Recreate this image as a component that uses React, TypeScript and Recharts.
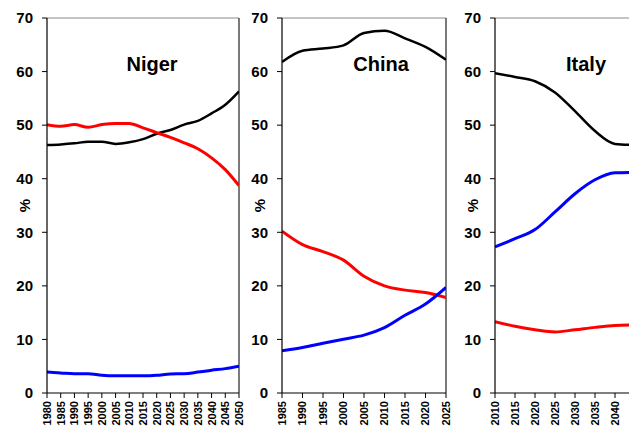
import React from "react";
import { LineChart, Line, XAxis, YAxis, ReferenceLine } from "recharts";

// Age structure of the population (% of total) by broad age group.

const nigerYears = [1980, 1985, 1990, 1995, 2000, 2005, 2010, 2015, 2020, 2025, 2030, 2035, 2040, 2045, 2050];
const nigerAge15to64 = [46.3, 46.4, 46.6, 46.9, 46.9, 46.5, 46.8, 47.4, 48.4, 49.1, 50.1, 50.8, 52.2, 53.8, 56.3];
const nigerAge0to14 = [50.1, 49.8, 50.1, 49.6, 50.1, 50.3, 50.3, 49.5, 48.6, 47.7, 46.7, 45.6, 43.9, 41.7, 38.7];
const nigerAge65plus = [3.9, 3.75, 3.6, 3.6, 3.3, 3.2, 3.2, 3.2, 3.3, 3.55, 3.6, 3.9, 4.25, 4.55, 5.0];

const chinaYears = [1985, 1990, 1995, 2000, 2005, 2010, 2015, 2020, 2025];
const chinaAge15to64 = [61.8, 63.9, 64.3, 64.9, 67.2, 67.6, 66.2, 64.6, 62.2];
const chinaAge0to14 = [30.2, 27.7, 26.4, 24.8, 21.8, 20.0, 19.2, 18.75, 17.8];
const chinaAge65plus = [7.9, 8.5, 9.3, 10.05, 10.8, 12.2, 14.5, 16.6, 19.7];

const italyYears = [2010, 2015, 2020, 2025, 2030, 2035, 2040, 2045];
const italyAge15to64 = [59.7, 59.0, 58.2, 56.1, 52.6, 48.9, 46.5, 46.3];
const italyAge0to14 = [13.3, 12.45, 11.8, 11.4, 11.8, 12.25, 12.6, 12.7];
const italyAge65plus = [27.3, 28.8, 30.5, 33.8, 37.2, 39.8, 41.1, 41.2];

const percentTicks = [0, 10, 20, 30, 40, 50, 60, 70];

const FONT = "Arial, 'Liberation Sans', Helvetica, sans-serif";

function buildRows(years: number[], working: number[], young: number[], old: number[]) {
  return years.map((year, i) => ({ year, working: working[i], young: young[i], old: old[i] }));
}

function yearTicks(from: number, to: number) {
  const out: number[] = [];
  for (let y = from; y <= to; y += 5) out.push(y);
  return out;
}

function YearTick(props: any) {
  const { x, y, payload } = props;
  return (
    <text
      x={x}
      y={y}
      transform={`rotate(-90 ${x} ${y})`}
      textAnchor="end"
      dy="0.36em"
      fontSize={11}
      fontWeight="bold"
      fontFamily={FONT}
      fill="#000"
    >
      {payload.value}
    </text>
  );
}

function PercentLabel(props: any) {
  const { viewBox } = props;
  const x = viewBox.x + viewBox.width - 22;
  const y = viewBox.y + viewBox.height / 2;
  return (
    <text
      x={x}
      y={y}
      transform={`rotate(-90 ${x} ${y})`}
      textAnchor="middle"
      dy="0.36em"
      fontSize={15}
      fontWeight="bold"
      fontFamily={FONT}
      fill="#000"
    >
      %
    </text>
  );
}

type PanelProps = {
  title: string;
  titleX: number;
  rows: { year: number; working: number; young: number; old: number }[];
  from: number;
  to: number;
  left: number;
  plotWidth: number;
  yAxisWidth: number;
  rightBorder: boolean;
};

const RIGHT_PAD = 10;

function Panel({ title, titleX, rows, from, to, left, plotWidth, yAxisWidth, rightBorder }: PanelProps) {
  return (
    <div style={{ position: "absolute", left, top: 0 }}>
      <LineChart
        width={yAxisWidth + plotWidth + RIGHT_PAD}
        height={420}
        data={rows}
        margin={{ top: 10, right: RIGHT_PAD, bottom: 0, left: 0 }}
      >
        <XAxis
          dataKey="year"
          type="number"
          domain={[from, to]}
          ticks={yearTicks(from, to)}
          interval={0}
          allowDataOverflow
          height={35}
          tickSize={5}
          tickMargin={3}
          axisLine={{ stroke: "#000", strokeWidth: 1.2 }}
          tickLine={{ stroke: "#000" }}
          tick={<YearTick />}
        />
        <YAxis
          type="number"
          domain={[0, 70]}
          ticks={percentTicks}
          interval={0}
          width={yAxisWidth}
          tickSize={5}
          tickMargin={9}
          axisLine={{ stroke: "#000", strokeWidth: 1.2 }}
          tickLine={{ stroke: "#000" }}
          tick={{ fontSize: 15, fontWeight: "bold", fill: "#000", fontFamily: FONT }}
          label={<PercentLabel />}
        />
        <ReferenceLine y={70} stroke="#888" strokeWidth={1} />
        {rightBorder && <ReferenceLine x={to} stroke="#222" strokeWidth={1.2} />}
        <Line dataKey="working" type="monotone" stroke="#000" strokeWidth={2.5} dot={false} isAnimationActive={false} />
        <Line dataKey="young" type="monotone" stroke="#ff0000" strokeWidth={3} dot={false} isAnimationActive={false} />
        <Line dataKey="old" type="monotone" stroke="#0000ff" strokeWidth={3} dot={false} isAnimationActive={false} />
        <text
          x={titleX}
          y={63}
          textAnchor="middle"
          fontSize={20}
          fontWeight="bold"
          fontFamily={FONT}
          fill="#000"
        >
          {title}
        </text>
      </LineChart>
    </div>
  );
}

export default function App() {
  const niger = buildRows(nigerYears, nigerAge15to64, nigerAge0to14, nigerAge65plus);
  const china = buildRows(chinaYears, chinaAge15to64, chinaAge0to14, chinaAge65plus);
  const italy = buildRows(italyYears, italyAge15to64, italyAge0to14, italyAge65plus);
  return (
    <div style={{ position: "relative", width: 629, height: 420, overflow: "hidden", background: "#fff" }}>
      <Panel title="Niger" titleX={144} rows={niger} from={1980} to={2050} left={0} plotWidth={192} yAxisWidth={39} rightBorder />
      <Panel title="China" titleX={139} rows={china} from={1985} to={2025} left={234} plotWidth={164} yAxisWidth={40} rightBorder />
      <Panel title="Italy" titleX={131} rows={italy} from={2010} to={2050} left={447} plotWidth={160} yAxisWidth={40} rightBorder={false} />
    </div>
  );
}
